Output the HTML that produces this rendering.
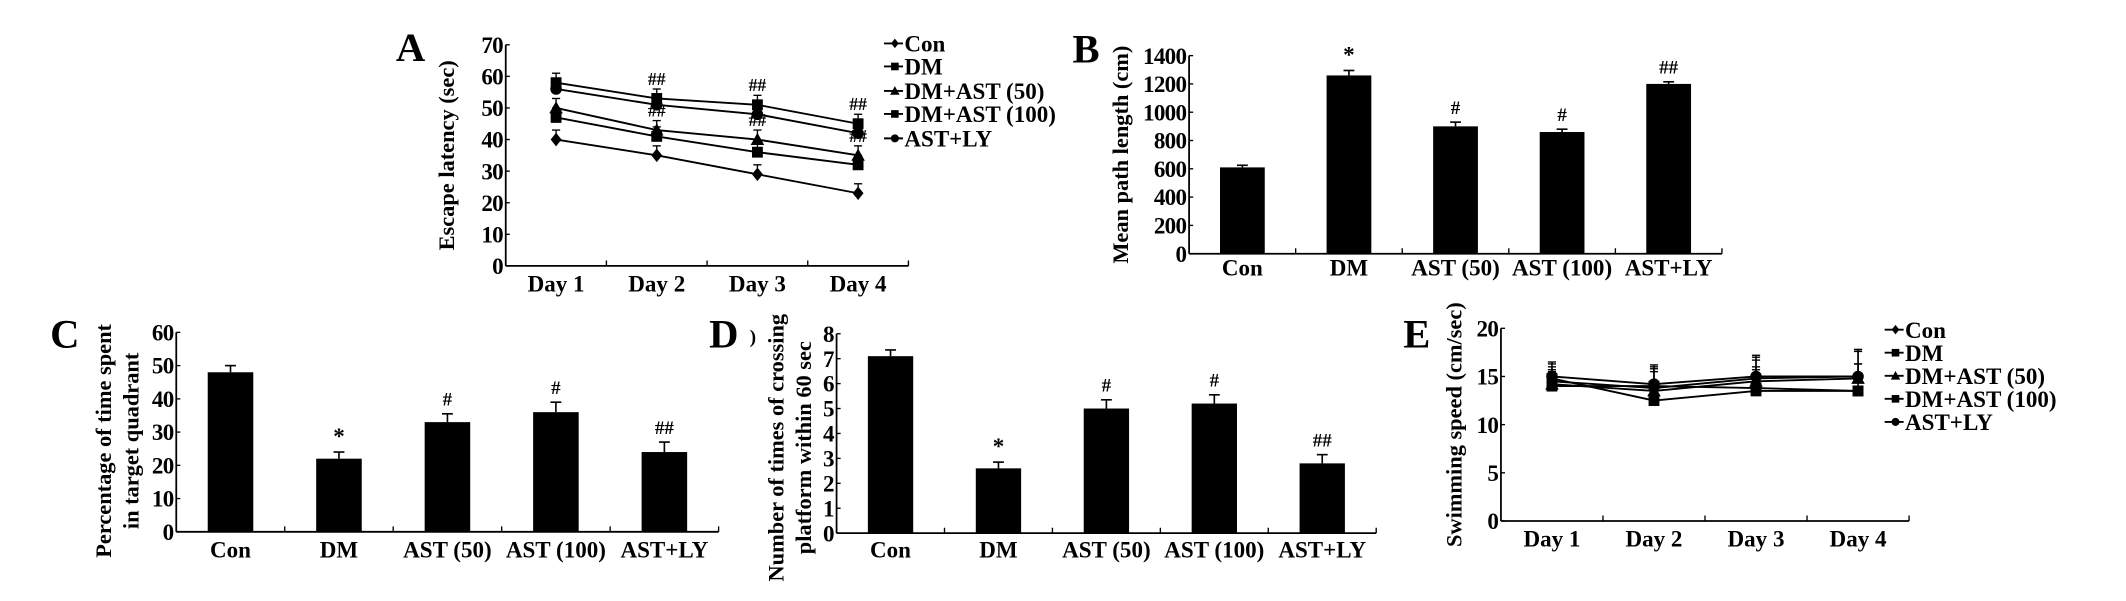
<!DOCTYPE html>
<html><head><meta charset="utf-8"><style>
html,body{margin:0;padding:0;background:#fff;}
svg{display:block;}
text{font-family:"Liberation Serif",serif;font-weight:bold;fill:#000;}
</style></head><body>
<svg id="fig" width="2126" height="601" viewBox="0 0 1568 443" preserveAspectRatio="none" xmlns="http://www.w3.org/2000/svg"></svg>
<script>
// ---- Data ----
const days = ["Day 1","Day 2","Day 3","Day 4"];
const groupsLine = ["Con","DM","DM+AST (50)","DM+AST (100)","AST+LY"];
const markers = ["diamond","square","triangle","square","circle"];
const escCon = [40,35,29,23];
const escDM = [58,53,51,45];
const escA50 = [50,43,40,35];
const escA100 = [47,41,36,32];
const escLY = [56,51,48,42];
const escErr = [3,3,3,3];
const escTicks = [0,10,20,30,40,50,60,70];
const escAnnot = ["","##","##","##"];
const escAnnot2 = ["","##","##","##"];

const barCats = ["Con","DM","AST (50)","AST (100)","AST+LY"];
const pathVals = [610,1260,900,860,1200];
const pathErr = [15,35,30,20,15];
const pathAnn = ["","*","#","#","##"];
const pathTicks = [0,200,400,600,800,1000,1200,1400];

const pctVals = [48,22,33,36,24];
const pctErr = [2,2,2.5,3,3];
const pctAnn = ["","*","#","#","##"];
const pctTicks = [0,10,20,30,40,50,60];

const crossVals = [7.1,2.6,5.0,5.2,2.8];
const crossErr = [0.25,0.25,0.35,0.35,0.35];
const crossAnn = ["","*","#","#","##"];
const crossTicks = [0,1,2,3,4,5,6,7,8];

const spdCon = [14.5,13.8,14.8,15.0];
const spdDM = [14.8,12.5,13.5,13.5];
const spdA50 = [14.2,13.5,14.5,14.8];
const spdA100 = [14.0,14.0,13.8,13.5];
const spdLY = [15.0,14.2,15.0,15.0];
const spdErr = [1.5,2,2.2,2.8];
const spdTicks = [0,5,10,15,20];

const NS="http://www.w3.org/2000/svg";
const svg=document.getElementById('fig');
const FS=17;
function el(tag,attrs,parent,txt){const e=document.createElementNS(NS,tag);for(const k in attrs)e.setAttribute(k,attrs[k]);if(txt!==undefined)e.textContent=txt;(parent||svg).appendChild(e);return e;}

function axes(g,x0,x1,y0,y1,ticks,ncat,catLabels,labY,fs){
  const ymax=ticks[ticks.length-1];
  const ys=v=>y0-(v/ymax)*(y0-y1);
  const xa=el('line',{x1:x0,y1:y0,x2:x1,y2:y0,stroke:'#000','stroke-width':1.3},g);
  
  
  const ya=el('line',{x1:x0,y1:y0,x2:x0,y2:y1,stroke:'#000','stroke-width':1.3},g);
  
  
  ticks.forEach(t=>{
    el('line',{x1:x0,y1:ys(t),x2:x0+3,y2:ys(t),stroke:'#000'},g);
    const tl=el('text',{x:x0-2,y:ys(t)+6,'text-anchor':'end','font-size':fs,'letter-spacing':-0.5},g,String(t));
    
    
  });
  const bw=(x1-x0)/ncat;
  for(let i=1;i<=ncat;i++){el('line',{x1:x0+bw*i,y1:y0,x2:x0+bw*i,y2:y0-4,stroke:'#000'},g);}
  catLabels.forEach((c,i)=>{
    const t=el('text',{x:x0+bw*(i+0.5),y:labY,'text-anchor':'middle','font-size':fs},g,c);
    
    
  });
  return {ys,xs:i=>x0+bw*(i+0.5),bw};
}

function ylabel(g,x,y,lines,fs){
  lines.forEach((l,i)=>{
    const t=el('text',{x:0,y:0,'text-anchor':'middle','font-size':fs,transform:`translate(${x+i*20},${y}) rotate(-90)`},g,l);
    
    
  });
}
function panelLetter(x,y,s){const t=el('text',{x:x,y:y,'font-size':30},svg,s);}

function barChart(name,x0,x1,y0,y1,ticks,vals,errs,ann,labY,titleX,titleY,titleLines){
  const g=el('g',{});
  
  
  const a=axes(g,x0,x1,y0,y1,ticks,vals.length,barCats,labY,FS);
  const w=a.bw*0.42;
  vals.forEach((v,i)=>{
    const cx=a.xs(i);
    const r=el('rect',{x:cx-w/2,y:a.ys(v),width:w,height:y0-a.ys(v),fill:'#000'},g);
    
    
    const ye=a.ys(v+errs[i]);
    el('line',{x1:cx,y1:a.ys(v),x2:cx,y2:ye,stroke:'#000','stroke-width':1.2},g);
    el('line',{x1:cx-4,y1:ye,x2:cx+4,y2:ye,stroke:'#000','stroke-width':1.2},g);
    if(ann[i]){const t=el('text',{x:cx,y:ye-6,'text-anchor':'middle','font-size':ann[i]==='*'?17:14},g,ann[i]);}
  });
  ylabel(g,titleX,titleY,titleLines,16.5);
}

function drawMarker(g,type,x,y,s){
  if(type==='diamond')el('polygon',{points:`${x},${y-s} ${x+s*0.8},${y} ${x},${y+s} ${x-s*0.8},${y}`,fill:'#000'},g);
  else if(type==='square')el('rect',{x:x-s*0.8,y:y-s*0.8,width:s*1.6,height:s*1.6,fill:'#000'},g);
  else if(type==='triangle')el('polygon',{points:`${x},${y-s} ${x+s},${y+s*0.8} ${x-s},${y+s*0.8}`,fill:'#000'},g);
  else el('circle',{cx:x,cy:y,r:s*0.85,fill:'#000'},g);
}

function lineChart(name,x0,x1,y0,y1,ticks,series,err,ms,legX,legYs,titleX,title,annots,labY){
  const g=el('g',{});
  
  
  const a=axes(g,x0,x1,y0,y1,ticks,days.length,days,labY,FS);
  series.forEach((s,si)=>{
    const sg=el('g',{},g);
    
    
    const pts=s.map((v,i)=>`${a.xs(i)},${a.ys(v)}`).join(' ');
    el('polyline',{points:pts,fill:'none',stroke:'#000','stroke-width':1.4},sg);
    s.forEach((v,i)=>{
      const cx=a.xs(i), ye=a.ys(v+err[i]);
      el('line',{x1:cx,y1:a.ys(v),x2:cx,y2:ye,stroke:'#000'},sg);
      el('line',{x1:cx-3,y1:ye,x2:cx+3,y2:ye,stroke:'#000'},sg);
      drawMarker(sg,markers[si],cx,a.ys(v),ms);
    });
  });
  if(annots){annots.forEach(an=>{an.labels.forEach((l,i)=>{if(!l)return;const t=el('text',{x:a.xs(i),y:a.ys(an.vals[i]+err[i])-3,'text-anchor':'middle','font-size':13},g,l);});});}
  groupsLine.forEach((n,i)=>{
    const lg=el('g',{},g);
    
    
    el('line',{x1:legX,y1:legYs[i],x2:legX+14,y2:legYs[i],stroke:'#000','stroke-width':1.4},lg);
    drawMarker(lg,markers[i],legX+8,legYs[i],3.5);
    el('text',{x:legX+15,y:legYs[i]+6,'font-size':17},lg,n);
  });
  ylabel(g,titleX,(y0+y1)/2,[title],16.5);
}

panelLetter(292,45,'A');
lineChart('escape-latency-chart',373,670,196,33,escTicks,[escCon,escDM,escA50,escA100,escLY],escErr,5,652,[32,49,67,84,102],335,'Escape latency (sec)',
  [{vals:escDM,labels:escAnnot},{vals:escA50,labels:escAnnot2}],215);

panelLetter(791,46,'B');
barChart('mean-path-length-chart',877,1270,187,41,pathTicks,pathVals,pathErr,pathAnn,203,832,114,['Mean path length (cm)']);

panelLetter(37,256,'C');
barChart('time-in-quadrant-chart',130,530,392,245,pctTicks,pctVals,pctErr,pctAnn,411,82,325,['Percentage of time spent','in target quadrant']);

panelLetter(523,256,'D');
el('text',{x:553,y:253,'font-size':14},svg,')');
barChart('platform-crossings-chart',617,1015,393,246,crossTicks,crossVals,crossErr,crossAnn,411,578,330,['Number of times of crossing','platform within 60 sec']);

panelLetter(1035,256,'E');
lineChart('swimming-speed-chart',1107,1408,384,242,spdTicks,[spdCon,spdDM,spdA50,spdA100,spdLY],spdErr,5,1390,[243,260,277,294,311],1078,'Swimming speed (cm/sec)',null,403);
</script>
</body></html>
